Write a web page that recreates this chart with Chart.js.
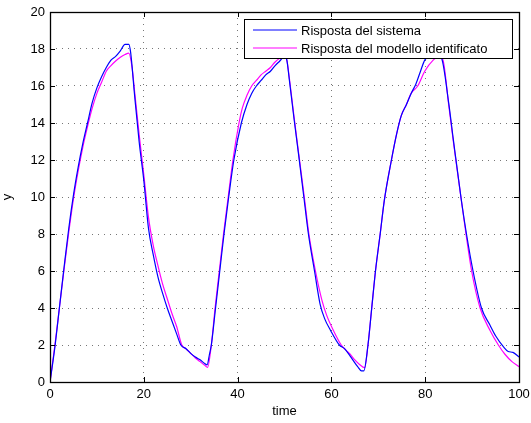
<!DOCTYPE html>
<html>
<head>
<meta charset="utf-8">
<title>Risposta del sistema</title>
<script src="https://cdn.jsdelivr.net/npm/chart.js@4.4.1/dist/chart.umd.min.js"></script>
<style>
  html, body { margin: 0; padding: 0; background: #fff; }
  #wrap { width: 531px; height: 423px; }
</style>
</head>
<body>
<div id="wrap"><canvas id="chart" width="531" height="423"></canvas></div>
<script>
// values
const sysLabel = "Risposta del sistema";
const sysColor = "#0000ff";
const sysX = [0, 1, 2, 3, 4, 5, 6, 7, 8, 9, 10, 11, 12, 13, 14, 15, 16, 16.8, 17.2, 18, 19, 20, 21, 22, 23, 24, 25, 26, 27, 27.9, 29, 30, 31, 32, 33, 33.5, 34, 34.4, 35.3, 36.2, 37.1, 38.1, 39.2, 40.8, 42, 43, 44, 45, 46, 47, 48, 49, 50, 50.5, 51, 52, 53, 54.2, 55.1, 56.4, 57.6, 58.6, 59.8, 61.7, 62.8, 64, 65.6, 66.4, 66.9, 67.8, 68.6, 69.4, 70.4, 71.3, 72.8, 73.9, 74.9, 76, 77, 78, 79, 79.9, 81, 82.5, 83.5, 85, 86, 87.7, 88.8, 90.2, 92, 93.8, 95, 96.7, 97.7, 98.7, 100];
const sysY = [0, 1.8, 4.0, 6.2, 8.3, 10.1, 11.6, 12.9, 14.0, 15.1, 15.9, 16.5, 17.0, 17.4, 17.6, 17.9, 18.25, 18.25, 17.8, 15.6, 13.0, 10.9, 8.3, 6.9, 5.7, 4.8, 4.0, 3.3, 2.6, 2.0, 1.8, 1.55, 1.35, 1.2, 1.0, 0.93, 1.5, 2.0, 4.0, 6.0, 8.0, 10.0, 12.0, 14.0, 15.0, 15.6, 16.0, 16.3, 16.6, 16.8, 17.1, 17.35, 17.6, 17.4, 16.4, 14.3, 12.3, 9.84, 8.0, 6.0, 4.2, 3.4, 2.8, 2.0, 1.8, 1.4, 0.83, 0.6, 0.6, 2.0, 4.0, 6.0, 8.0, 9.84, 12.0, 13.4, 14.4, 15.0, 15.6, 16.1, 16.8, 17.4, 17.65, 17.7, 17.5, 15.1, 13.1, 9.84, 8.0, 6.0, 4.0, 3.08, 2.5, 1.9, 1.65, 1.6, 1.35];

const modLabel = "Risposta del modello identificato";
const modColor = "#ff00ff";
const modX = [0, 1, 2, 3, 4, 5, 6, 7, 8, 9, 10, 11, 12, 13, 14, 15, 16, 16.8, 17.5, 18, 19, 20, 21, 22, 23, 24, 25, 26, 27, 28.1, 29, 30, 31, 32, 33, 33.6, 34.4, 35.2, 36.1, 37, 38, 39, 40.3, 41, 42, 43, 44, 45, 46, 47, 48, 49, 50, 50.5, 51, 52, 53, 54.3, 55.2, 56.6, 58, 59, 60.4, 62.1, 63, 64, 65, 66, 67.1, 67.8, 68.6, 69.4, 70.4, 71.3, 72.8, 73.9, 74.9, 76, 77, 78.4, 79.9, 81.7, 83, 83.8, 85, 86, 87.7, 88.7, 89.9, 91.7, 93.8, 95.6, 97, 98.5, 100];
const modY = [0, 1.9, 4.0, 6.1, 8.1, 9.9, 11.4, 12.7, 13.8, 14.8, 15.6, 16.2, 16.8, 17.1, 17.35, 17.55, 17.7, 17.78, 17.0, 15.8, 13.4, 11.2, 8.9, 7.4, 6.3, 5.3, 4.5, 3.7, 3.0, 2.0, 1.8, 1.55, 1.3, 1.1, 0.9, 0.79, 2.0, 4.0, 6.0, 8.0, 10.0, 12.0, 14.0, 14.8, 15.5, 16.0, 16.3, 16.6, 16.8, 17.0, 17.3, 17.5, 17.6, 17.4, 16.5, 14.4, 12.4, 9.84, 8.0, 6.0, 4.4, 3.6, 2.8, 2.0, 1.75, 1.5, 1.2, 0.95, 0.78, 2.0, 4.0, 6.0, 8.0, 9.84, 12.0, 13.4, 14.4, 15.0, 15.6, 16.0, 16.8, 17.4, 17.6, 17.4, 15.0, 13.0, 9.84, 8.0, 6.0, 4.0, 2.8, 2.0, 1.5, 1.1, 0.83];

const xTicks = [0, 20, 40, 60, 80, 100];
const yTicks = [0, 2, 4, 6, 8, 10, 12, 14, 16, 18, 20];

const FONT = "'Liberation Sans', Arial, Helvetica, sans-serif";

const toPoints = (xs, ys) => xs.map((x, i) => ({ x: x, y: ys[i] }));

// box round the axes, inward ticks on all four sides, legend in the top right corner
const matlabAxes = {
  id: "matlabAxes",
  afterDatasetsDraw(chart) {
    const { ctx, chartArea: a, scales } = chart;
    const xs = scales.x;
    const ys = scales.y;
    ctx.save();
    ctx.strokeStyle = "#000";
    ctx.lineWidth = 1;
    ctx.setLineDash([]);
    ctx.beginPath();
    xs.ticks.forEach((t) => {
      const px = Math.round(xs.getPixelForValue(t.value)) + 0.5;
      ctx.moveTo(px, a.bottom);
      ctx.lineTo(px, a.bottom - 5);
      ctx.moveTo(px, a.top);
      ctx.lineTo(px, a.top + 5);
    });
    ys.ticks.forEach((t) => {
      const py = Math.round(ys.getPixelForValue(t.value)) + 0.5;
      ctx.moveTo(a.left, py);
      ctx.lineTo(a.left + 5, py);
      ctx.moveTo(a.right, py);
      ctx.lineTo(a.right - 5, py);
    });
    ctx.stroke();
    ctx.lineWidth = 1.3;
    ctx.strokeRect(Math.round(a.left) + 0.5, Math.round(a.top) + 0.5,
      Math.round(a.right - a.left), Math.round(a.bottom - a.top));

    // legend
    const colors = [sysColor, modColor];
    const lw = 268, lh = 39;
    const lx = Math.round(a.right) - 7 - lw;
    const ly = Math.round(a.top) + 7;
    ctx.lineWidth = 1;
    ctx.fillStyle = "#fff";
    ctx.fillRect(lx, ly, lw, lh);
    ctx.strokeStyle = "#000";
    ctx.strokeRect(lx + 0.5, ly + 0.5, lw, lh);
    ctx.font = "13px " + FONT;
    ctx.textBaseline = "middle";
    chart.data.datasets.forEach((ds, i) => {
      const yy = ly + 11 + i * 18;
      ctx.strokeStyle = colors[i];
      ctx.lineWidth = 1.2;
      ctx.beginPath();
      ctx.moveTo(lx + 9, yy);
      ctx.lineTo(lx + 53, yy);
      ctx.stroke();
      ctx.fillStyle = "#000";
      ctx.fillText(ds.label, lx + 57, yy + 1);
    });
    ctx.restore();
  }
};

new Chart(document.getElementById("chart"), {
  type: "line",
  data: {
    datasets: [
      {
        label: sysLabel,
        data: toPoints(sysX, sysY),
        borderColor: sysColor,
        borderWidth: 1.2,
        pointRadius: 0,
        cubicInterpolationMode: "monotone",
        fill: false
      },
      {
        label: modLabel,
        data: toPoints(modX, modY),
        borderColor: modColor,
        borderWidth: 1.2,
        pointRadius: 0,
        cubicInterpolationMode: "monotone",
        fill: false
      }
    ]
  },
  options: {
    responsive: false,
    animation: false,
    layout: { padding: { top: 12, right: 12, left: 0, bottom: 0 } },
    plugins: {
      legend: { display: false },
      tooltip: { enabled: false }
    },
    scales: {
      x: {
        type: "linear",
        min: 0,
        max: 100,
        afterBuildTicks: (s) => { s.ticks = xTicks.map((v) => ({ value: v })); },
        afterFit: (s) => { s.height = 41; s.paddingLeft = 0; s.paddingRight = 0; },
        grid: { color: "#777", drawTicks: false, lineWidth: 1 },
        border: { display: false, dash: [1, 5] },
        ticks: { color: "#000", padding: 5, maxRotation: 0, font: { family: FONT, size: 13 } },
        title: { display: true, text: "time", color: "#000", padding: { top: 0, bottom: 4 }, font: { family: FONT, size: 13 } }
      },
      y: {
        type: "linear",
        min: 0,
        max: 20,
        afterBuildTicks: (s) => { s.ticks = yTicks.map((v) => ({ value: v })); },
        afterFit: (s) => { s.width = 50; s.paddingTop = 0; s.paddingBottom = 0; },
        grid: { color: "#777", drawTicks: false, lineWidth: 1 },
        border: { display: false, dash: [1, 5] },
        ticks: { color: "#000", padding: 5, font: { family: FONT, size: 13 } },
        title: { display: true, text: "y", color: "#000", padding: { top: 0, bottom: 6 }, font: { family: FONT, size: 13 } }
      }
    }
  },
  plugins: [matlabAxes]
});
</script>
</body>
</html>
